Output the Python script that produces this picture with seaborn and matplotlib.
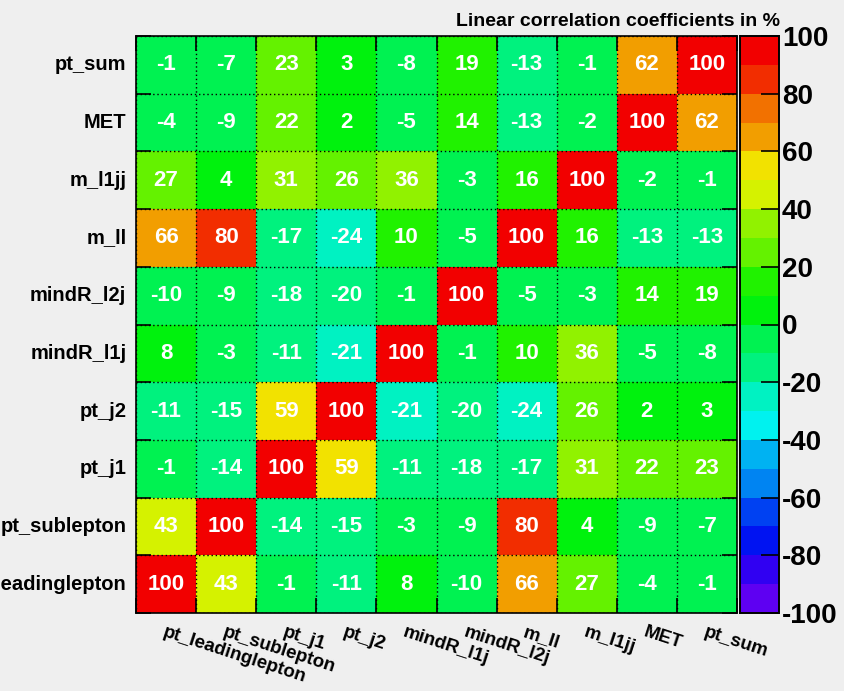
import colorsys
import numpy as np
import pandas as pd
import matplotlib
matplotlib.use("Agg")
import matplotlib.pyplot as plt
from matplotlib.colors import ListedColormap, BoundaryNorm
import seaborn as sns

# Input variables (x axis order left to right, y axis order bottom to top)
variables = ["pt_leadinglepton", "pt_sublepton", "pt_j1", "pt_j2", "mindR_l1j",
             "mindR_l2j", "m_ll", "m_l1jj", "MET", "pt_sum"]

# Linear correlation coefficients in %, one list per variable, columns in `variables` order
pt_leadinglepton = [100, 43, -1, -11, 8, -10, 66, 27, -4, -1]
pt_sublepton = [43, 100, -14, -15, -3, -9, 80, 4, -9, -7]
pt_j1 = [-1, -14, 100, 59, -11, -18, -17, 31, 22, 23]
pt_j2 = [-11, -15, 59, 100, -21, -20, -24, 26, 2, 3]
mindR_l1j = [8, -3, -11, -21, 100, -1, 10, 36, -5, -8]
mindR_l2j = [-10, -9, -18, -20, -1, 100, -5, -3, 14, 19]
m_ll = [66, 80, -17, -24, 10, -5, 100, 16, -13, -13]
m_l1jj = [27, 4, 31, 26, 36, -3, 16, 100, -2, -1]
MET = [-4, -9, 22, 2, -5, 14, -13, -2, 100, 62]
pt_sum = [-1, -7, 23, 3, -8, 19, -13, -1, 62, 100]

colorbar_ticks = [-100, -80, -60, -40, -20, 0, 20, 40, 60, 80, 100]

rows = [pt_leadinglepton, pt_sublepton, pt_j1, pt_j2, mindR_l1j,
        mindR_l2j, m_ll, m_l1jj, MET, pt_sum]
# first variable at the bottom of the map
df = pd.DataFrame(rows[::-1], index=variables[::-1], columns=variables)

# 20-level violet -> red rainbow palette (HLS hue scan, 50 base colours sampled per contour)
n_levels = 20
n_base = 50
shade = 0.95
colors = []
for k in range(n_levels):
    idx = int((k + 0.99) * n_base / n_levels)
    hue = 280.0 - (idx + 1) * (280.0 / n_base)
    r, g, b = colorsys.hls_to_rgb(hue / 360.0, 0.5, 1.0)
    colors.append((r * shade, g * shade, b * shade))
cmap = ListedColormap(colors)
bounds = np.linspace(-100, 100, n_levels + 1)
norm = BoundaryNorm(bounds, cmap.N)

W, H = 844, 691
bg = "#efefef"
plt.rcParams["font.family"] = ["Liberation Sans", "DejaVu Sans"]

fig = plt.figure(figsize=(W / 100, H / 100), dpi=100, facecolor=bg)
ax = fig.add_axes([136 / W, 1 - 613 / H, 601 / W, 577 / H])
cax = fig.add_axes([740 / W, 1 - 613 / H, 39 / W, 577 / H])

sns.heatmap(df, ax=ax, cbar_ax=cax, cmap=cmap, norm=norm,
            annot=True, fmt="d", linewidths=0,
            annot_kws=dict(color="white", fontsize=16, fontweight="bold"))

# frame
for s in ax.spines.values():
    s.set_visible(True)
    s.set_color("black")
    s.set_linewidth(1.2)

n = len(variables)
ax.set_xticks(np.arange(n + 1), minor=True)
ax.set_yticks(np.arange(n + 1), minor=True)
ax.grid(which="minor", color="black", linestyle=(0, (1, 2)), linewidth=1.0)
ax.grid(which="major", visible=False)
ax.set_axisbelow(False)
ax.tick_params(which="minor", direction="in", length=11, width=1.2,
               top=True, right=True, bottom=True, left=True, color="black")
ax.tick_params(which="major", length=0)

ax.set_yticklabels(variables[::-1], rotation=0, fontsize=14.5, fontweight="bold")
ax.tick_params(axis="y", which="major", pad=7)
ax.set_xticklabels(variables, rotation=-18, ha="left", va="top",
                   rotation_mode="anchor", fontsize=13.5, fontweight="bold")
ax.tick_params(axis="x", which="major", pad=8)
ax.set_xlabel("")
ax.set_ylabel("")

# colour scale
cax.set_yticks(colorbar_ticks)
cax.set_yticklabels([str(t) for t in colorbar_ticks], fontsize=20, fontweight="bold")
cax.tick_params(direction="in", length=13, width=1.2, pad=2, color="black")
cax.tick_params(which="minor", length=0)
for s in cax.spines.values():
    s.set_visible(True)
    s.set_linewidth(1.2)
    s.set_color("black")

fig.text(780 / W, 1 - 26 / H, "Linear correlation coefficients in %",
         ha="right", va="baseline", fontsize=14, fontweight="bold")

fig.savefig("out.png", dpi=100, facecolor=bg)
